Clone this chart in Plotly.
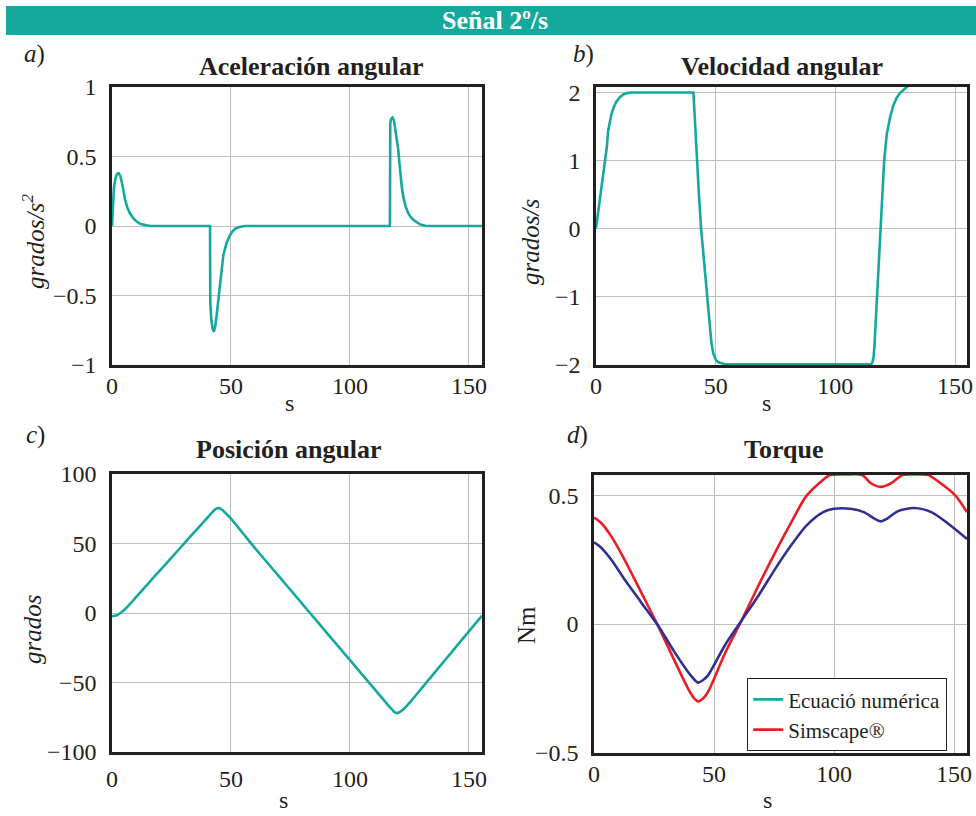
import plotly.graph_objects as go

# ---------------- data ----------------
acc_t = [0, 0.4, 0.8, 1.4, 2.1, 2.8, 3.5, 4.2, 4.8, 5.5, 6.5, 7.6, 9, 10.5, 12, 14, 16,
         41.2, 41.3, 41.8, 42.3, 42.8, 43.4, 44.0, 44.7, 45.4, 46.1, 46.8, 48.0, 49.0, 50.3, 51.7, 53.5, 55.9,
         116.8, 116.85, 116.95, 117.3, 117.9, 118.5, 119.2, 119.8, 120.3, 120.8, 121.3, 121.8, 122.4, 123.4,
         124.5, 125.5, 126.6, 128.0, 129.4, 132.0, 155.5]
acc_v = [0, 0.15, 0.27, 0.34, 0.375, 0.38, 0.36, 0.31, 0.25, 0.19, 0.13, 0.09, 0.055, 0.03, 0.015, 0.005, 0,
         0, -0.55, -0.68, -0.74, -0.76, -0.72, -0.64, -0.52, -0.40, -0.30, -0.21, -0.13, -0.086, -0.045, -0.02, -0.007, 0,
         0, 0.6, 0.74, 0.77, 0.78, 0.76, 0.69, 0.62, 0.55, 0.45, 0.357, 0.28, 0.213, 0.14,
         0.093, 0.065, 0.045, 0.025, 0.012, 0, 0]

vel_t = [0, 1, 2, 3, 3.8, 4.5, 5.1, 5.8, 6.5, 7.5, 8.6, 10, 11.4, 13, 14.5,
         40.7, 41.4, 42.1, 43.0, 43.9, 45.1, 46.3, 47.3, 48.2, 49, 50, 51.1, 52.5, 54,
         114.5, 115.2, 115.6, 116.0, 116.3, 116.9, 117.3, 118.0, 118.7, 119.5, 120.4, 121.5, 122.9,
         124.2, 125.6, 127, 128.8, 130.5, 132]
vel_v = [0, 0.25, 0.5, 0.75, 0.95, 1.19, 1.44, 1.58, 1.69, 1.79, 1.87, 1.93, 1.97, 1.99, 2.0,
         2.0, 1.5, 1.0, 0.5, 0.0, -0.5, -1.0, -1.4, -1.68, -1.84, -1.93, -1.97, -1.99, -2.0,
         -2.0, -1.99, -1.96, -1.88, -1.75, -1.35, -1.0, -0.5, 0.0, 0.5, 1.0, 1.39, 1.64,
         1.81, 1.92, 1.99, 2.05, 2.1, 2.15]

pos_t = [0, 2, 4, 6, 8, 10, 15, 20, 25, 30, 35, 40, 42, 43.5, 44.7, 46, 47.5, 50, 55, 60, 70, 80,
         83.2, 90, 100, 110, 114, 116, 117.5, 118.7, 119.6, 120.6, 122, 123.5, 125.2, 130, 135, 140,
         145, 150, 155.5]
pos_v = [-2.4, -1.6, 0.6, 3.6, 7.2, 11.2, 20.8, 30.3, 39.8, 49.4, 58.9, 68.4, 72.2, 74.7, 75.5, 74.6,
         72.3, 67.9, 57.4, 46.9, 26.7, 6.5, 0, -13.7, -33.9, -54.1, -62.2, -66.2, -69.0, -71.2, -72,
         -71.6, -70, -67.6, -64.3, -54.4, -44.1, -33.8, -23.5, -13.2, -1.9]

tq_t = [0, 2.8, 7, 12.6, 19.6, 26.6, 33.5, 39.2, 41.5, 43.4, 45.3, 47.5, 54.5, 61.5, 68.5, 75.5,
        82.5, 88.5, 95.5, 100, 106.8, 112.4, 116.6, 119.4, 122.3, 126.5, 133.5, 140.5, 147.6, 155.4]
tq_num = [0.317, 0.298, 0.252, 0.175, 0.085, -0.005, -0.108, -0.186, -0.212, -0.227, -0.218, -0.199,
          -0.083, 0.014, 0.11, 0.214, 0.31, 0.382, 0.434, 0.447, 0.447, 0.434, 0.41, 0.398, 0.41,
          0.437, 0.45, 0.434, 0.389, 0.33]

tq_sim_t = [0, 2.8, 7, 12.6, 19.6, 26.6, 33.5, 39.2, 41.5, 43.4, 45.3, 47.5, 54.5, 61.5, 68.5, 75.5,
            82.5, 88.5, 95.5, 98.3, 105, 111.7, 115.2, 119.4, 123.6, 128.6, 134, 139.2, 144.7, 150.4, 155.4]
tq_sim = [0.413, 0.394, 0.343, 0.252, 0.124, -0.005, -0.141, -0.25, -0.285, -0.30, -0.29, -0.263,
          -0.115, 0.014, 0.149, 0.278, 0.40, 0.497, 0.56, 0.578, 0.58, 0.578, 0.547, 0.532, 0.545,
          0.578, 0.58, 0.578, 0.544, 0.5, 0.434]

main_title = "Señal 2º/s"
panel_titles = ["Aceleración angular", "Velocidad angular", "Posición angular", "Torque"]
panel_letters = ["a", "b", "c", "d"]
x_titles = ["s", "s", "s", "s"]
y_titles = ["<i>grados/s<sup>2</sup></i>", "<i>grados/s</i>", "<i>grados</i>", "Nm"]
legend_names = ["Ecuació numérica", "Simscape®"]

# ---------------- style ----------------
W, H = 976, 816
TEAL = "#16a89c"
NAVY = "#2e3192"
RED = "#ed1c24"
BAND = "#14a99d"
INK = "#231f20"
GRID = "#bdbdbd"
FONT = "Liberation Serif, DejaVu Serif, serif"


def fx(p):
    return p / W


def fy(p):
    return 1 - p / H


fig = go.Figure()

fig.add_trace(go.Scatter(x=acc_t, y=acc_v, mode="lines", line=dict(color=TEAL, width=2.6),
                         xaxis="x", yaxis="y", showlegend=False))
fig.add_trace(go.Scatter(x=vel_t, y=vel_v, mode="lines", line=dict(color=TEAL, width=2.6),
                         xaxis="x2", yaxis="y2", showlegend=False))
fig.add_trace(go.Scatter(x=pos_t, y=pos_v, mode="lines", line=dict(color=TEAL, width=2.6, shape="spline", smoothing=0.8),
                         xaxis="x3", yaxis="y3", showlegend=False))
fig.add_trace(go.Scatter(x=tq_sim_t, y=tq_sim, mode="lines", name=legend_names[1], legendrank=2,
                         line=dict(color=RED, width=2.6, shape="spline", smoothing=0.8),
                         xaxis="x4", yaxis="y4"))
fig.add_trace(go.Scatter(x=tq_t, y=tq_num, mode="lines", showlegend=False,
                         line=dict(color=NAVY, width=2.6, shape="spline", smoothing=0.8),
                         xaxis="x4", yaxis="y4"))
# legend entry as printed in the reference (teal swatch)
fig.add_trace(go.Scatter(x=[None], y=[None], mode="lines", name=legend_names[0], legendrank=1,
                         line=dict(color=TEAL, width=2.6), xaxis="x4", yaxis="y4"))

xdoms = [(112, 482), (596, 967), (112, 482), (594, 967)]
ydoms = [(87, 365), (87, 365), (474, 752), (475, 753)]
xranges = [[0, 155.5], [0, 155], [0, 155.5], [0, 155.4]]
yranges = [[-1, 1], [-2.01, 2.08], [-100, 100], [-0.5, 0.578]]
ydticks = [0.5, 1, 50, 0.5]
xlabel_standoff = [-3, -3, 3, -3]

layout = dict(width=W, height=H, margin=dict(l=0, r=0, t=0, b=0, pad=0), autosize=False,
              paper_bgcolor="white", plot_bgcolor="white",
              font=dict(family=FONT, color=INK, size=24))
for i in range(4):
    sx = "" if i == 0 else str(i + 1)
    common = dict(showline=True, mirror=True, linecolor=INK, linewidth=2.5, automargin=False,
                  showgrid=True, gridcolor=GRID, gridwidth=1, zeroline=False, ticks="",
                  tickfont=dict(family=FONT, size=24, color=INK))
    layout["xaxis" + sx] = dict(common, domain=[fx(xdoms[i][0]), fx(xdoms[i][1])],
                                anchor="y" + sx, range=xranges[i], dtick=50, tick0=0,
                                ticklabelstandoff=xlabel_standoff[i])
    layout["yaxis" + sx] = dict(common, domain=[fy(ydoms[i][1]), fy(ydoms[i][0])],
                                anchor="x" + sx, range=yranges[i], dtick=ydticks[i], tick0=0,
                                ticklabelstandoff=8)

layout["legend"] = dict(x=fx(747), y=fy(678), xanchor="left", yanchor="top",
                        bgcolor="white", bordercolor=INK, borderwidth=1.2,
                        font=dict(family=FONT, size=21, color=INK), tracegroupgap=0,
                        itemwidth=30)

layout["shapes"] = [dict(type="rect", xref="paper", yref="paper", x0=fx(6), x1=1.0,
                         y0=fy(35), y1=fy(6), fillcolor=BAND, line=dict(width=0), layer="below")]

annotations = [dict(text="<b>" + main_title + "</b>", x=fx(495), y=fy(20.5), xref="paper", yref="paper",
                    showarrow=False, xanchor="center", yanchor="middle",
                    font=dict(family=FONT, size=26, color="white"))]
title_pos = [(311.5, 66), (781.7, 66), (288.8, 449), (784, 449)]
letter_pos = [(34, 54), (583, 54), (35, 435), (577, 435)]
# x titles: anchored by their bottom edge (px)
xtitle_pos = [(289, 418), (766, 418), (283, 815), (767, 815)]
ytitle_pos = [(33, 242), (530, 242), (32, 630), (526, 625)]
for i in range(4):
    annotations.append(dict(text="<b>" + panel_titles[i] + "</b>", x=fx(title_pos[i][0]), y=fy(title_pos[i][1]),
                            xref="paper", yref="paper", showarrow=False, xanchor="center", yanchor="middle",
                            font=dict(family=FONT, size=26, color=INK)))
    annotations.append(dict(text="<i>" + panel_letters[i] + "</i>)", x=fx(letter_pos[i][0]), y=fy(letter_pos[i][1]),
                            xref="paper", yref="paper", showarrow=False, xanchor="center", yanchor="middle",
                            font=dict(family=FONT, size=25, color=INK)))
    annotations.append(dict(text=x_titles[i], x=fx(xtitle_pos[i][0]), y=fy(xtitle_pos[i][1]),
                            xref="paper", yref="paper", showarrow=False, xanchor="center", yanchor="bottom",
                            font=dict(family=FONT, size=24, color=INK)))
    annotations.append(dict(text=y_titles[i], x=fx(ytitle_pos[i][0]), y=fy(ytitle_pos[i][1]),
                            xref="paper", yref="paper", showarrow=False, xanchor="center", yanchor="middle",
                            textangle=-90, font=dict(family=FONT, size=25, color=INK)))
layout["annotations"] = annotations

fig.update_layout(**layout)
fig.write_html("out.html")
